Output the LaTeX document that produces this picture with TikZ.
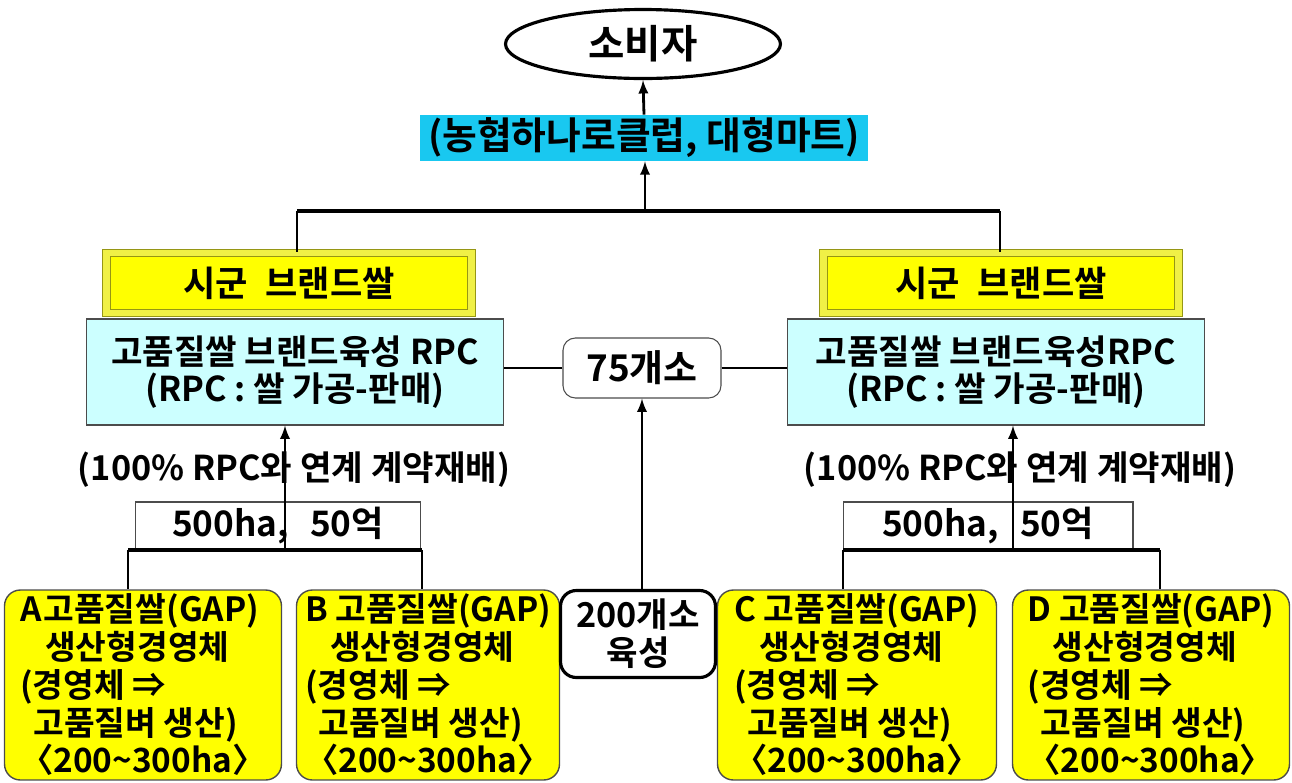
\documentclass[tikz,border=0pt]{standalone}
\usepackage{fontspec}
\setmainfont{Noto Sans CJK KR}[BoldFont={Noto Sans CJK KR Bold}]
\usepackage{xcolor}
\usetikzlibrary{arrows.meta}
\usetikzlibrary{shapes.geometric}
\usetikzlibrary{calc}
\tikzset{> = latex}
\definecolor{skyb}{RGB}{25,200,240}
\definecolor{paleb}{RGB}{204,255,255}
\definecolor{yel}{RGB}{255,255,0}
\definecolor{bevel}{RGB}{240,240,70}
\definecolor{olivedk}{RGB}{150,150,20}
\tikzset{
  txt/.style={font=\fontsize{19.5}{21.5}\selectfont\bfseries, inner sep=0pt},
  brandbox/.style={txt, font=\fontsize{20}{22}\selectfont\bfseries, fill=yel, draw=olivedk, double=bevel, double distance=3.5pt, line width=0.7pt, minimum height=1.2cm},
  rpcbox/.style={txt, fill=paleb, draw=black!70, line width=0.6pt, minimum height=2.12cm, align=center},
  habox/.style={txt, font=\fontsize{20}{22}\selectfont\bfseries, fill=white, draw=black!70, line width=0.6pt, minimum height=0.96cm},
  gapbox/.style={txt, font=\fontsize{19}{21.5}\selectfont\bfseries, fill=yel, draw=black!70, line width=0.8pt, rounded corners=9pt, minimum height=3.8cm, align=left},
  link/.style={line width=1.6pt},
  bar/.style={line width=2.6pt}
}
\newcommand{\gaptext}[1]{#1 고품질쌀(GAP)\\\hspace{0.75em}생산형경영체\\(경영체 ⇒\\\hspace{0.4em}고품질벼 생산)\\〈200\textasciitilde300ha〉}

\begin{document}
\begin{tikzpicture}[x=0.02cm, y=-0.02cm]
		\useasboundingbox (0,0) rectangle (1292,782);
		% top
		\node[ellipse, draw, line width=1.8pt, minimum width=5.5cm, minimum height=1.38cm, txt, font=\fontsize{22.5}{24}\selectfont\bfseries] (sobi) at (643,44) {소비자};
		\node[txt, font=\fontsize{21.5}{24}\selectfont\bfseries, fill=skyb, minimum width=8.96cm, minimum height=0.92cm] (mart) at (644,138) {(농협하나로클럽, 대형마트)};
		\coordinate (topL) at (297,211);
		\coordinate (topM) at (645,211);
		\coordinate (topR) at (1000,211);
		% brand + rpc
		\node[brandbox, minimum width=7.3cm] (brandL) at (289,283) {시군\hspace{0.5em}브랜드쌀};
		\node[brandbox, minimum width=7.1cm] (brandR) at (1001,283) {시군\hspace{0.5em}브랜드쌀};
		\node[rpcbox, minimum width=8.36cm] (rpcL) at (295,372) {고품질쌀 브랜드육성 RPC\\(RPC : 쌀 가공-판매)};
		\node[rpcbox, minimum width=8.36cm] (rpcR) at (996,372) {고품질쌀 브랜드육성RPC\\(RPC : 쌀 가공-판매)};
		\node[txt, font=\fontsize{21}{24}\selectfont\bfseries, draw=black!70, line width=0.6pt, fill=white, rounded corners=7pt, minimum width=3.16cm, minimum height=1.2cm] (cnt75) at (642,368) {75개소};
		% contract
		\node[txt] (contractL) at (294,470) {(100\% RPC와 연계 계약재배)};
		\node[txt] (contractR) at (1020,470) {(100\% RPC와 연계 계약재배)};
		\node[habox, minimum width=5.7cm] (haL) at (278,526) {500ha,\hspace{0.6em}50억};
		\node[habox, minimum width=5.8cm] (haR) at (988,526) {500ha,\hspace{0.6em}50억};
		\coordinate (barL1) at (128,550);
		\coordinate (barL2) at (422,550);
		\coordinate (barR1) at (843,550);
		\coordinate (barR2) at (1160,550);
		\coordinate (upL) at (285,550);
		\coordinate (upR) at (1013,550);
		% bottom
		\node[gapbox, minimum width=5.54cm] (gapA) at (143,685) {\gaptext{A\!}};
		\node[gapbox, minimum width=5.26cm] (gapB) at (428,685) {\gaptext{B}};
		\node[gapbox, minimum width=5.58cm] (gapC) at (857,685) {\gaptext{C}};
		\node[gapbox, minimum width=5.54cm] (gapD) at (1151,685) {\gaptext{D}};
		\node[txt, draw, fill=white, line width=1.8pt, rounded corners=9pt, minimum width=3.1cm, minimum height=1.74cm, align=center] (cnt200) at (638,634) {200개소\\육성};
		% connectors
		\draw[bar] (topL) -- (topR);
		\draw[link] (topL) -- (topL |- brandL.north);
		\draw[link] (topR) -- (topR |- brandR.north);
		\draw[link, ->] (topM) -- (topM |- mart.south);
		\draw[link, ->] (mart.north) -- (sobi.south);
		\draw[line width=0.6pt] (cnt75.west) -- (cnt75.west -| rpcL.east);
		\draw[line width=0.6pt] (cnt75.east) -- (cnt75.east -| rpcR.west);
		\draw[bar] (barL1) -- (barL2);
		\draw[bar] (barR1) -- (barR2);
		\draw[link] (barL1) -- (barL1 |- gapA.north);
		\draw[link] (barL2) -- (barL2 |- gapB.north);
		\draw[link] (barR1) -- (barR1 |- gapC.north);
		\draw[link] (barR2) -- (barR2 |- gapD.north);
		\draw[link, ->] (upL) -- (upL |- rpcL.south);
		\draw[link, ->] (upR) -- (upR |- rpcR.south);
		\draw[link, ->] (cnt200.north -| cnt75.south) -- (cnt75.south);
\end{tikzpicture}
\end{document}
